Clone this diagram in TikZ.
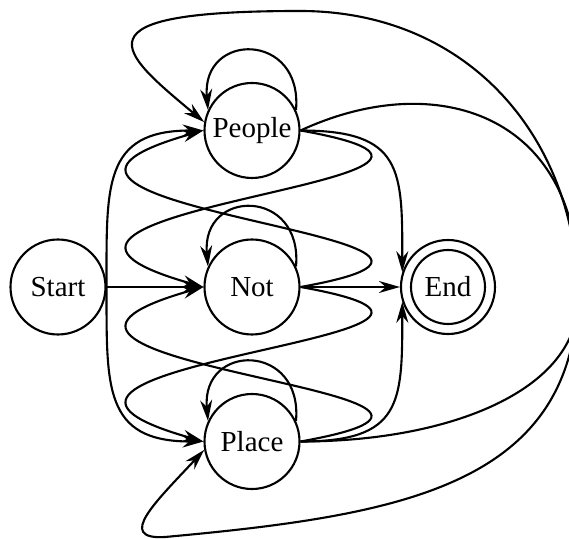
\documentclass[tikz,border=0pt]{standalone}
\usepackage{fontspec}
\setmainfont{Liberation Serif}
\usetikzlibrary{arrows.meta}
\tikzset{
	state/.style={circle, draw, line width=1.2pt, minimum size=1.9cm, inner sep=0pt,
		font=\fontsize{16.5}{19}\selectfont},
	trans/.style={line width=1.2pt, -{Stealth[length=4.2mm, width=2.4mm]}}
}
\begin{document}
\begin{tikzpicture}
	\useasboundingbox (-5.04,-5.04) rectangle (6.34,5.74);
	\clip (-5.04,-5.04) rectangle (6.34,5.74);
	\node[state] (Start)  at (-3.88, 0)    {Start};
	\node[state] (Not)    at ( 0, 0)       {Not};
	\node[state] (People) at ( 0, 3.13)    {People};
	\node[state] (Place)  at ( 0,-3.09)    {Place};
	\node[state, minimum size=1.88cm] (End) at (3.92,0) {End};
	\draw[line width=1.2pt] (End.center) circle (0.74);
	% bends of the two long transitions
	\coordinate (eastA) at (6.52,-0.26);
	\coordinate (topA)  at (0.96,5.52);
	\coordinate (eastB) at (6.52,0.04);
	\coordinate (botB)  at (-1.74,-5);
	% from Start
	\draw[trans] (Start) -- (Not);
	\draw[trans] (Start.east) to[out=90, in=180, looseness=1.4] (People.west);
	\draw[trans] (Start.east) to[out=-90, in=180, looseness=1.4] (Place.west);
	% loops
	\foreach \s in {People, Not, Place}
		\draw[trans] (\s.25) to[out=85, in=95, looseness=2.3] (\s.155);
	% to End
	\draw[trans] (Not) -- (End);
	\draw[trans] (People.east) to[out=0, in=90, looseness=1.5] (End.162);
	\draw[trans] (Place.east) to[out=0, in=-90, looseness=1.5] (End.198);
	% between the middle states
	\draw[trans] (People.east) .. controls +(5.6,-1) and +(-5.6,1.58) .. (Not.west);
	\draw[trans] (Not.east) .. controls +(5.6,1) and +(-5.6,-1.58) .. (People.west);
	\draw[trans] (Place.east) .. controls +(5.6,1) and +(-5.6,-1.58) .. (Not.west);
	\draw[trans] (Not.east) .. controls +(5.6,-1) and +(-5.6,1.58) .. (Place.west);
	% round the outside
	\draw[trans] (Place.east) .. controls +(3,0) and +(0,-1.8) .. (eastA)
		.. controls +(0,3.2) and +(3.4,0) .. (topA)
		.. controls +(-4.6,0) and +(-1.69,1.41) .. (People.170);
	\draw[trans] (People.east) .. controls +(2.72,1.26) and +(0,3.4) .. (eastB)
		.. controls +(0,-4) and +(4.8,0.44) .. (botB)
		.. controls +(-1,-0.06) and +(-0.95,-1.02) .. (Place.190);
\end{tikzpicture}
\end{document}
